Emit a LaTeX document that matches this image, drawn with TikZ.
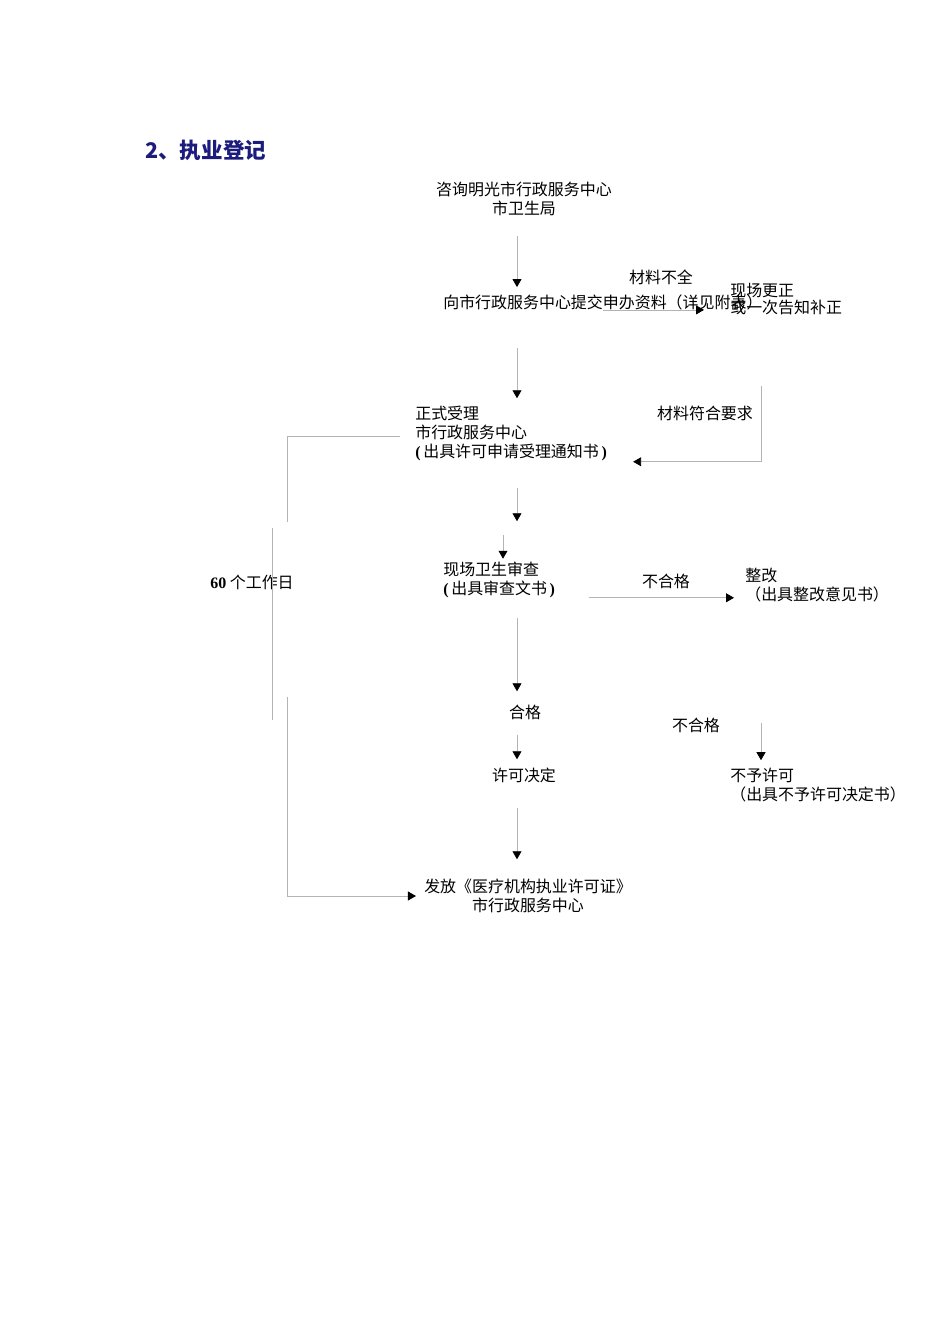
\documentclass[tikz,border=0pt]{standalone}
\usepackage{fontspec}
\setmainfont{Liberation Serif}
\newfontfamily\cjk{Noto Sans CJK SC}
\usepackage{tikz}
\usetikzlibrary{arrows.meta, calc}
\definecolor{TitleNavy}{HTML}{1C1C7C}
\definecolor{LineGray}{HTML}{B4B4B4}
\newcommand{\bopen}{{\normalfont\bfseries(}\,}
\newcommand{\bclose}{\,{\normalfont\bfseries)}}

\begin{document}
\begin{tikzpicture}[
  x=0.6266pt, y=-0.6266pt,
  font=\cjk\fontsize{10}{11.9}\selectfont,
  txt/.style={inner sep=0pt, align=center},
  ltxt/.style={inner sep=0pt, align=left, anchor=west},
  line/.style={draw=LineGray, line width=0.5pt},
  arr/.style={line, -{Triangle[length=5pt, width=5.6pt, color=black, fill=black]}}
]
\fill[white] (0,0) rectangle (950,1344);
\useasboundingbox (0,0) rectangle (950,1344);
\node[ltxt, font=\cjk\bfseries\fontsize{13.5}{16}\selectfont, text=TitleNavy] (title) at (145,150) {2、执业登记};
\node[txt] (consult) at (524,199) {咨询明光市行政服务中心\\市卫生局};
\node[ltxt] (submit) at (443,302) {向市行政服务中心提交申办资料（详见附表）};
\node[txt] (lack) at (661,277) {材料不全};
\node[ltxt, font=\cjk\fontsize{10}{10.7}\selectfont] (fix) at (730,299.5) {现场更正\\或一次告知补正};
\node[ltxt] (accept) at (415,433) {正式受理\\市行政服务中心\\\bopen 出具许可申请受理通知书\bclose};
\node[txt] (meet) at (705,413) {材料符合要求};
\node[ltxt] (days) at (210,582) {{\normalfont\bfseries 60} 个工作日};
\node[ltxt] (check) at (443,579.5) {现场卫生审查\\\bopen 出具审查文书\bclose};
\node[txt] (fail) at (666,581) {不合格};
\node[ltxt] (rectify) at (745,585.5) {整改\\（出具整改意见书）};
\node[txt] (pass) at (525,712) {合格};
\node[txt] (refuse) at (696,725) {不合格};
\node[txt] (decide) at (524,775) {许可决定};
\node[ltxt] (deny) at (730,785) {不予许可\\（出具不予许可决定书）};
\node[txt] (issue) at (528,896) {发放《医疗机构执业许可证》\\市行政服务中心};
\coordinate (col) at (517,0);
\coordinate (rail) at (287,0);
\draw[arr] ($(consult.south -| col)+(0,20)$) -- ($(submit.north -| col)+(0,-7)$);
\draw[arr] (submit.south) -- ($(fix.west |- submit.south)+(-26,0)$);
\draw[arr] ($(submit.south -| col)+(0,38)$) -- ($(accept.north -| col)+(0,-7)$);
\draw[arr] ($(meet.north east)+(8,-19)$) |- ($(accept.south east)+(26,1)$);
\draw[arr] ($(accept.south -| col)+(0,27)$) -- ($(check.north -| col)+(0,-40)$);
\draw[arr] ($(check.north west)+(60,-26.5)$) -- ($(check.north west)+(60,-2.5)$);
\draw[arr] ($(check.south east)+(34,0)$) -- ($(rectify.west |- check.south)+(-11,0)$);
\draw[arr] ($(check.south -| col)+(0,20.5)$) -- ($(pass.north -| col)+(0,-13)$);
\draw[arr] ($(pass.south -| col)+(0,15)$) -- ($(decide.north -| col)+(0,-8)$);
\draw[arr] ($(deny.north west)+(31,-44.5)$) -- ($(deny.north west)+(31,-7.5)$);
\draw[arr] ($(decide.south -| col)+(0,25)$) -- ($(issue.north -| col)+(0,-19.5)$);
\draw[line] ($(accept.west)+(-15,3)$) -| ($(days.north -| rail)+(0,-52)$);
\draw[line] ($(days.north west)+(62,-46)$) -- ($(days.south west)+(62,130)$);
\draw[arr] ($(days.south -| rail)+(0,107)$) |- ($(issue.west)+(-8,0)$);
\end{tikzpicture}
\end{document}
